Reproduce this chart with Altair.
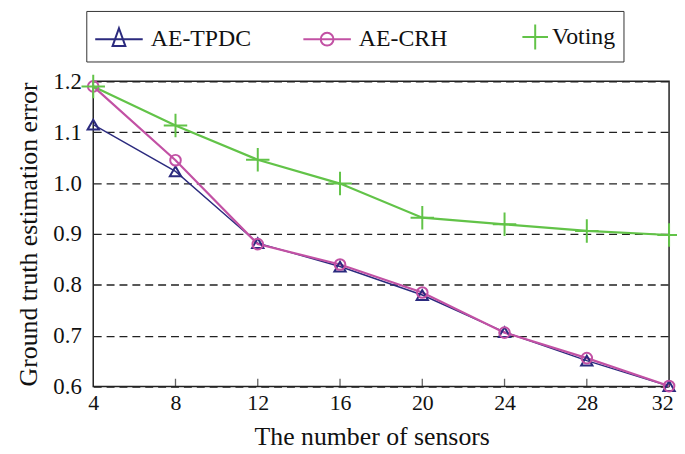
import altair as alt
import pandas as pd

# ---- data ----
sensors = [4, 8, 12, 16, 20, 24, 28, 32]
ae_tpdc = [1.115, 1.023, 0.882, 0.836, 0.780, 0.707, 0.651, 0.601]
ae_crh = [1.190, 1.045, 0.880, 0.840, 0.785, 0.706, 0.656, 0.601]
voting = [1.190, 1.113, 1.046, 0.999, 0.932, 0.919, 0.906, 0.898]
series_names = ["AE-TPDC", "AE-CRH", "Voting"]
colors = ["#2b2a7e", "#c251a4", "#62c348"]
line_widths = [1.4, 2.2, 2.2]
marker_shapes = ["triangle-up", "circle", "M-1,0H1M0,-1V1"]
marker_sizes = [130, 115, 560]
x_ticks = [4, 8, 12, 16, 20, 24, 28, 32]
inner_ticks = [8, 12, 16, 20, 24, 28]
y_ticks = [0.6, 0.7, 0.8, 0.9, 1.0, 1.1, 1.2]

FONT = "Liberation Serif"

df = pd.DataFrame({
    "sensors": sensors * 3,
    "error": ae_tpdc + ae_crh + voting,
    "series": [s for s in series_names for _ in sensors],
})
df["series_leg"] = df["series"]
tick_df = pd.DataFrame({"sensors": inner_ticks})

x_scale = alt.Scale(domain=[4, 32], nice=False, zero=False)
y_scale = alt.Scale(domain=[0.6, 1.2], nice=False, zero=False)

x_axis = alt.Axis(values=x_ticks, title="The number of sensors", ticks=False,
                  domain=False, grid=False, labelPadding=6, titlePadding=10,
                  labelFontSize=22, titleFontSize=26, labelFlush=False, titleX=281,
                  labelOffset={"condition": {"test": "datum.value == 32", "value": -7},
                               "value": 0})
y_axis = alt.Axis(values=y_ticks, format=".1f",
                  title="Ground truth estimation error", ticks=False,
                  domain=False, grid=True, gridDash=[8, 5], gridColor="#222",
                  gridWidth=1.3, labelPadding=12, titlePadding=11,
                  labelFontSize=23, titleFontSize=26)

x_enc = alt.X("sensors:Q", scale=x_scale, axis=x_axis)
y_enc = alt.Y("error:Q", scale=y_scale, axis=y_axis)

layers = []
for name, col, lw in zip(series_names, colors, line_widths):
    layers.append(
        alt.Chart(df).transform_filter(alt.datum.series == name)
        .mark_line(color=col, strokeWidth=lw)
        .encode(x=x_enc, y=y_enc, order="sensors:Q")
    )
for name, col, shp, sz in zip(series_names, colors, marker_shapes, marker_sizes):
    layers.append(
        alt.Chart(df).transform_filter(alt.datum.series == name)
        .mark_point(color=col, shape=shp, size=sz, filled=False, strokeWidth=2, opacity=1)
        .encode(x=x_enc, y=y_enc)
    )

ticks = alt.Chart(tick_df).mark_tick(
    orient="vertical", size=16, thickness=1.3, color="#222", clip=True
).encode(x=x_enc, y=alt.datum(0.6))
layers.append(ticks)

# legend symbols: nominal box 34px (unit = 17px); line drawn 48px wide to the right
leg_paths = [
    "M-1,0H1.82M0.41,-0.65L0.79,0.41L0.03,0.41Z",
    "M-1,0H1.82M0.03,0A0.38,0.38,0,1,1,0.79,0A0.38,0.38,0,1,1,0.03,0",
    "M0.53,0H2.05M1.29,-0.74V0.74",
]

legend_def = alt.Legend(
    title=None, orient="none", legendX=-7, legendY=-71, direction="horizontal",
    columns=3, padding=8, strokeColor="#333", symbolSize=1156, symbolStrokeWidth=2,
    symbolOpacity=1, symbolFillColor="transparent", labelFont=FONT, labelFontSize=24,
    labelColor="#111", labelOffset=21, columnPadding=48,
)

legend_layer = alt.Chart(df).transform_filter("datum.sensors < 0").mark_point(
    filled=False, size=1156, strokeWidth=2
).encode(
    x=x_enc, y=y_enc,
    color=alt.Color("series_leg:N", scale=alt.Scale(domain=series_names, range=colors),
                    legend=legend_def),
    shape=alt.Shape("series_leg:N", scale=alt.Scale(domain=series_names, range=leg_paths),
                    legend=legend_def),
)
layers.append(legend_layer)

chart = alt.layer(*layers).properties(
    width=581, height=308,
    autosize=alt.AutoSizeParams(type="none"),
    padding={"left": 86, "top": 72, "right": 8, "bottom": 62},
).configure_view(
    stroke="#222", strokeWidth=1.5
).configure_axis(
    labelFont=FONT, titleFont=FONT, labelColor="#111", titleColor="#111",
    titleFontWeight="normal",
)

chart.save("out.html", embed_options={"renderer": "svg", "actions": False})
